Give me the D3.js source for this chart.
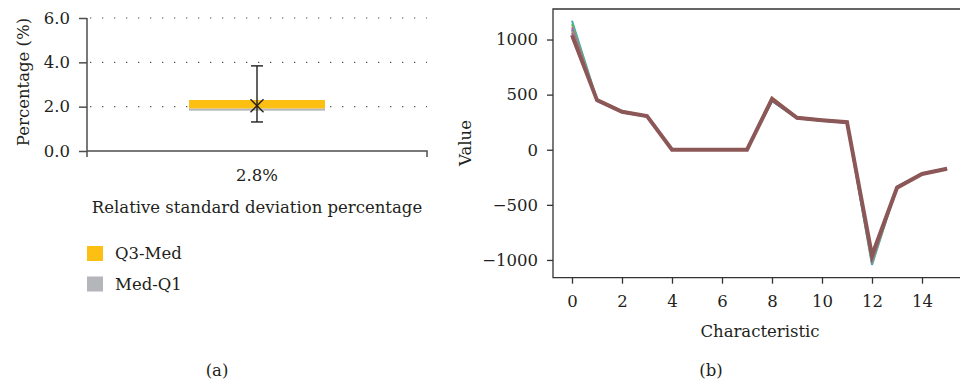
<!DOCTYPE html>
<html>
<head>
<meta charset="utf-8">
<script src="https://cdn.jsdelivr.net/npm/d3@7"></script>
<style>
  body { margin: 0; background: #fff; }
  svg text { font-family: 'DejaVu Serif', 'Liberation Serif', serif; fill: #231f20; }
</style>
</head>
<body>
<svg width="960" height="385"></svg>
<script>
// ---- panel (a) data ----
const boxCategories = ['2.8%'];
const boxQ1 = [1.82];
const boxMedian = [1.92];
const boxQ3 = [2.30];
const boxMin = [1.31];
const boxMax = [3.84];
const boxMean = [2.04];
const percentTicks = [0, 2, 4, 6];
const legendLabels = ['Q3-Med', 'Med-Q1'];

// ---- panel (b) data ----
const characteristics = [0, 1, 2, 3, 4, 5, 6, 7, 8, 9, 10, 11, 12, 13, 14, 15];
const seriesA = [1170, 455, 350, 305, 0, 0, 0, 0, 440, 285, 262, 245, -1045, -335, -215, -168];
const seriesB = [1140, 448, 348, 304, 0, 0, 0, 0, 450, 288, 265, 247, -1030, -338, -218, -170];
const seriesC = [1110, 452, 346, 306, 0, 0, 0, 0, 470, 292, 270, 250, -1010, -342, -220, -172];
const seriesD = [1090, 445, 342, 302, 0, 0, 0, 0, 455, 286, 266, 248, -995, -340, -222, -174];
const seriesE = [1075, 458, 352, 308, 0, 0, 0, 0, 475, 294, 272, 252, -980, -345, -224, -176];
const seriesF = [1060, 442, 340, 300, 0, 0, 0, 0, 445, 287, 264, 246, -970, -336, -219, -171];
const seriesG = [1020, 450, 344, 304, 0, 0, 0, 0, 465, 290, 268, 249, -945, -344, -221, -173];
const seriesH = [1040, 450, 345, 305, 0, 0, 0, 0, 460, 290, 268, 250, -960, -345, -220, -172];
const lineSeries = [seriesA, seriesB, seriesC, seriesD, seriesE, seriesF, seriesG, seriesH];
const lineColors = ['#3fa9b5', '#62b85a', '#d45ca0', '#5a7fc4', '#c9a03d', '#9a6bb5', '#e0657a', '#8c5757'];
const valueTicks = [-1000, -500, 0, 500, 1000];
const charTicks = [0, 2, 4, 6, 8, 10, 12, 14];

const svg = d3.select('svg');
const axisColor = '#4d4d4f';
const fs = 16.5;

// =================== panel (a) ===================
const ga = svg.append('g');
const yA = d3.scaleLinear().domain([0, 6]).range([151, 18]);
const xA = d3.scaleBand().domain(boxCategories).range([87, 427]).paddingInner(0).paddingOuter(0);

// dotted grid
ga.selectAll('.grid')
  .data(percentTicks.filter((d) => d > 0))
  .enter()
  .append('line')
  .attr('x1', 90)
  .attr('x2', 427)
  .attr('y1', (d) => yA(d))
  .attr('y2', (d) => yA(d))
  .attr('stroke', '#555')
  .attr('stroke-width', 1.2)
  .attr('stroke-dasharray', '1.3 10.7');

// left axis
const axisA = ga.append('g')
  .attr('transform', 'translate(87,0)')
  .call(d3.axisLeft(yA).tickValues(percentTicks).tickFormat(d3.format('.1f')).tickSize(8).tickPadding(9));
axisA.select('.domain').attr('stroke', axisColor).attr('stroke-width', 1.5).attr('d', 'M0,18V157');
axisA.selectAll('.tick line').attr('stroke', axisColor).attr('stroke-width', 1.5);
axisA.selectAll('.tick text').attr('font-size', fs).attr('font-family', 'DejaVu Serif').attr('fill', '#231f20');

// bottom axis
ga.append('path')
  .attr('d', 'M87,151H427V157')
  .attr('fill', 'none')
  .attr('stroke', axisColor)
  .attr('stroke-width', 1.5);

boxCategories.forEach((c, i) => {
  const bw = 136;
  const cx = xA(c) + xA.bandwidth() / 2;
  // Med-Q1
  ga.append('rect')
    .attr('x', cx - bw / 2)
    .attr('y', yA(boxMedian[i]))
    .attr('width', bw)
    .attr('height', yA(boxQ1[i]) - yA(boxMedian[i]))
    .attr('fill', '#b5b6b9');
  // Q3-Med
  ga.append('rect')
    .attr('x', cx - bw / 2)
    .attr('y', yA(boxQ3[i]))
    .attr('width', bw)
    .attr('height', yA(boxMedian[i]) - yA(boxQ3[i]))
    .attr('fill', '#fcbf12');
  // whisker
  ga.append('line')
    .attr('x1', cx).attr('x2', cx)
    .attr('y1', yA(boxMax[i])).attr('y2', yA(boxMin[i]))
    .attr('stroke', '#231f20').attr('stroke-width', 1.4);
  [boxMax[i], boxMin[i]].forEach((v) => {
    ga.append('line')
      .attr('x1', cx - 6).attr('x2', cx + 6)
      .attr('y1', yA(v)).attr('y2', yA(v))
      .attr('stroke', '#231f20').attr('stroke-width', 1.4);
  });
  // mean marker
  const my = yA(boxMean[i]);
  ga.append('path')
    .attr('d', `M${cx - 6.5},${my - 6.5}L${cx + 6.5},${my + 6.5}M${cx - 6.5},${my + 6.5}L${cx + 6.5},${my - 6.5}`)
    .attr('stroke', '#231f20').attr('stroke-width', 1.4);
  // category label
  ga.append('text')
    .attr('x', cx).attr('y', 181)
    .attr('text-anchor', 'middle')
    .attr('font-size', fs)
    .text(c);
});

ga.append('text')
  .attr('x', 257).attr('y', 213)
  .attr('text-anchor', 'middle')
  .attr('font-size', fs)
  .text('Relative standard deviation percentage');

ga.append('text')
  .attr('transform', 'translate(29,82) rotate(-90)')
  .attr('text-anchor', 'middle')
  .attr('font-size', fs)
  .text('Percentage (%)');

// legend
const legendColors = ['#fcbf12', '#b5b6b9'];
legendLabels.forEach((l, i) => {
  ga.append('rect')
    .attr('x', 87).attr('y', 246 + i * 30.5)
    .attr('width', 16).attr('height', 15)
    .attr('fill', legendColors[i]);
  ga.append('text')
    .attr('x', 115).attr('y', 259 + i * 30.5)
    .attr('font-size', fs)
    .text(l);
});

ga.append('text')
  .attr('x', 217).attr('y', 376)
  .attr('text-anchor', 'middle')
  .attr('font-size', fs)
  .text('(a)');

// =================== panel (b) ===================
const gb = svg.append('g');
const xB = d3.scaleLinear().domain([-0.76, 15.6]).range([553, 962]);
const yB = d3.scaleLinear().domain([-1161, 1277]).range([277.7, 9]);

// frame (top / left / bottom)
gb.append('path')
  .attr('d', `M962,9H553V277.7H962`)
  .attr('fill', 'none')
  .attr('stroke', '#333')
  .attr('stroke-width', 1.3);

const axisBY = gb.append('g')
  .attr('transform', 'translate(553,0)')
  .call(d3.axisLeft(yB).tickValues(valueTicks).tickFormat((d) => (d < 0 ? '\u2212' + Math.abs(d) : d)).tickSize(6).tickPadding(9));
axisBY.select('.domain').remove();
axisBY.selectAll('.tick line').attr('stroke', '#333').attr('stroke-width', 1.3);
axisBY.selectAll('.tick text').attr('font-size', fs).attr('font-family', 'DejaVu Serif').attr('fill', '#231f20');

const axisBX = gb.append('g')
  .attr('transform', 'translate(0,277.7)')
  .call(d3.axisBottom(xB).tickValues(charTicks).tickSize(6).tickPadding(12));
axisBX.select('.domain').remove();
axisBX.selectAll('.tick line').attr('stroke', '#333').attr('stroke-width', 1.3);
axisBX.selectAll('.tick text').attr('font-size', fs).attr('font-family', 'DejaVu Serif').attr('fill', '#231f20');

const line = d3.line()
  .x((d, i) => xB(characteristics[i]))
  .y((d) => yB(d));

gb.selectAll('.series')
  .data(lineSeries)
  .enter()
  .append('path')
  .attr('class', 'series')
  .attr('d', line)
  .attr('fill', 'none')
  .attr('stroke', (d, i) => lineColors[i])
  .attr('stroke-width', (d, i) => (i === lineSeries.length - 1 ? 4 : 2))
  .attr('stroke-linejoin', 'miter');

gb.append('text')
  .attr('x', 760).attr('y', 337)
  .attr('text-anchor', 'middle')
  .attr('font-size', fs)
  .text('Characteristic');

gb.append('text')
  .attr('transform', 'translate(471,143) rotate(-90)')
  .attr('text-anchor', 'middle')
  .attr('font-size', fs)
  .text('Value');

gb.append('text')
  .attr('x', 711).attr('y', 376)
  .attr('text-anchor', 'middle')
  .attr('font-size', fs)
  .text('(b)');
</script>
</body>
</html>
